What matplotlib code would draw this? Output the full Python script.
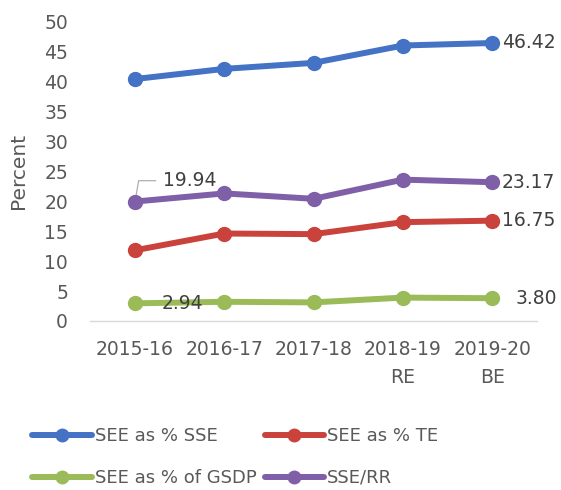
import matplotlib
matplotlib.use("Agg")
import matplotlib.pyplot as plt

# values
years = ["2015-16", "2016-17", "2017-18", "2018-19\nRE", "2019-20\nBE"]
see_pct_sse = [40.4, 42.1, 43.1, 46.0, 46.42]
see_pct_te = [11.8, 14.6, 14.5, 16.5, 16.75]
see_pct_gsdp = [2.94, 3.2, 3.1, 3.9, 3.80]
sse_rr = [19.94, 21.3, 20.4, 23.6, 23.17]

series = [
    ("SEE as % SSE", see_pct_sse, "#4472C4"),
    ("SEE as % TE", see_pct_te, "#C9433C"),
    ("SEE as % of GSDP", see_pct_gsdp, "#9BBB59"),
    ("SSE/RR", sse_rr, "#7F5FA8"),
]

plt.rcParams["font.family"] = "DejaVu Sans"
fig = plt.figure(figsize=(5.61, 4.9), dpi=100)
ax = fig.add_axes([0.161, 0.345, 0.796, 0.611])

x = list(range(len(years)))
lines = []
for name, vals, col in series:
    ln, = ax.plot(x, vals, "-o", color=col, lw=4.3, ms=10, label=name,
                  solid_capstyle="round")
    lines.append(ln)

# data labels (first/last points, as in the original)
lab = dict(fontsize=13.5, color="#404040", textcoords="offset points", va="center")
ax.annotate(f"{see_pct_sse[-1]:.2f}", (x[-1], see_pct_sse[-1]), xytext=(7, 0), ha="left", **lab)
ax.annotate(f"{sse_rr[-1]:.2f}", (x[-1], sse_rr[-1]), xytext=(7, 0), ha="left", **lab)
ax.annotate(f"{see_pct_te[-1]:.2f}", (x[-1], see_pct_te[-1]), xytext=(7, 0), ha="left", **lab)
ax.annotate(f"{see_pct_gsdp[-1]:.2f}", (x[-1], see_pct_gsdp[-1]), xytext=(16.5, 0), ha="left", **lab)
ax.annotate(f"{see_pct_gsdp[0]:.2f}", (x[0], see_pct_gsdp[0]), xytext=(19.5, 0), ha="left", **lab)
ax.annotate(f"{sse_rr[0]:.2f}", (x[0], sse_rr[0]), xytext=(20, 15), ha="left", **lab,
            arrowprops=dict(arrowstyle="-", color="#A6A6A6", lw=0.8, relpos=(0, 0.5),
                            shrinkA=3, shrinkB=5,
                            connectionstyle="angle,angleA=0,angleB=80,rad=0"))

ax.set_xlim(-0.5, len(years) - 0.5)
ax.set_ylim(0, 50)
ax.set_yticks(range(0, 51, 5))
ax.set_xticks(x)
ax.set_xticklabels(years, linespacing=1.55)
ax.tick_params(axis="both", length=0, labelsize=13.5, labelcolor="#595959")
ax.tick_params(axis="x", pad=14)
ax.tick_params(axis="y", pad=16)

for side in ("top", "right", "left"):
    ax.spines[side].set_visible(False)
ax.spines["bottom"].set_color("#D9D9D9")
ax.spines["bottom"].set_linewidth(1.0)

ax.set_ylabel("Percent", fontsize=14.5, color="#595959")
ax.yaxis.set_label_coords(-0.14, 0.5)

# legend fills column-wise, so order handles to read row-wise like the original
order = [0, 2, 1, 3]
fig.legend(handles=[lines[i] for i in order], loc="center left",
           bbox_to_anchor=(0.057, 0.067),
           ncol=2, frameon=False, fontsize=13, labelcolor="#595959",
           handlelength=3.3, handletextpad=0.17, columnspacing=0.45,
           labelspacing=1.3, borderpad=0, borderaxespad=0, numpoints=1,
           markerscale=0.9)

fig.savefig("out.png", dpi=100)
